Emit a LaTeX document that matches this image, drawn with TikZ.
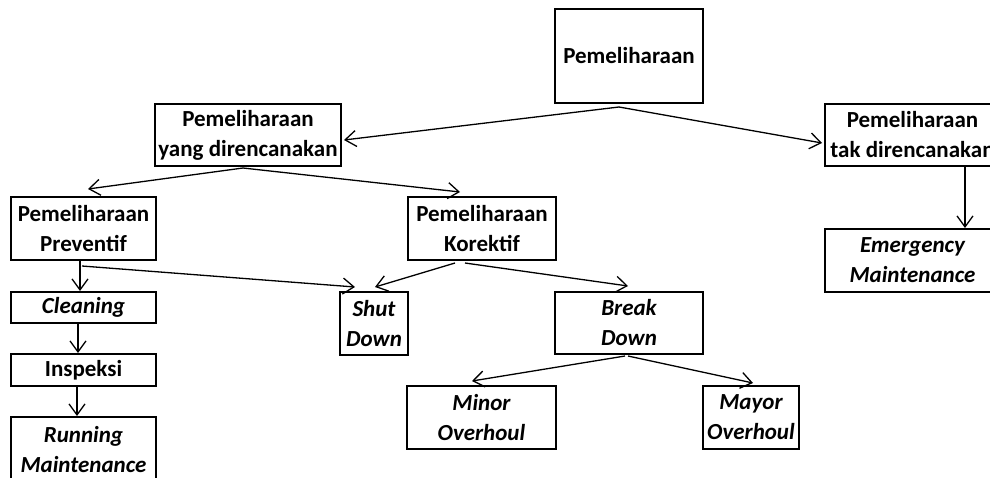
\documentclass[tikz,border=0pt]{standalone}
\usepackage{fontspec}
\setmainfont{Carlito}
\usetikzlibrary{arrows.meta}
\tikzset{
  box/.style={draw, line width=2pt, rectangle, inner sep=0pt, align=center,
    font=\fontsize{23}{30}\selectfont\bfseries},
  ibox/.style={box, font=\fontsize{23}{30}\selectfont\bfseries\itshape},
  arr/.style={draw, line width=1.3pt, -{Straight Barb[length=11pt,width=16pt,line width=1.3pt]}}
}
\begin{document}
\begin{tikzpicture}[x=1pt,y=-1pt]
\useasboundingbox (0,0) rectangle (990,477);
\clip (0,0) rectangle (990,477);
\fill[white] (0,0) rectangle (990,477);
% nodes
\node[box, minimum width=148pt, minimum height=94pt] (top) at (629,56) {Pemeliharaan};
\node[box, minimum width=186pt, minimum height=62pt] (yd) at (248,135) {Pemeliharaan\\yang direncanakan};
\node[box, minimum width=175pt, minimum height=62pt] (td) at (912.5,135) {Pemeliharaan\\tak direncanakan};
\node[ibox, minimum width=175pt, minimum height=63pt] (em) at (912.5,260.5) {Emergency\\Maintenance};
\node[box, minimum width=145pt, minimum height=63pt] (prev) at (83.5,228.5) {Pemeliharaan\\Preventif};
\node[box, minimum width=148pt, minimum height=63pt] (kor) at (482,228.5) {Pemeliharaan\\Korektif};
\node[ibox, minimum width=145pt, minimum height=31pt] (clean) at (83.5,307.5) {Cleaning};
\node[box, minimum width=145pt, minimum height=32pt] (insp) at (83.5,370) {Inspeksi};
\node[ibox, minimum width=145pt, minimum height=65pt] (run) at (83.5,449.5) {Running\\Maintenance};
\node[ibox, minimum width=68pt, minimum height=63pt] (shut) at (374,323.5) {Shut\\Down};
\node[ibox, minimum width=148pt, minimum height=62pt] (brk) at (629,323) {Break\\Down};
\node[ibox, minimum width=149pt, minimum height=63pt] (minor) at (481.5,417.5) {Minor\\Overhoul};
\node[ibox, minimum width=96pt, minimum height=63pt] (mayor) at (751,417.5) {Mayor\\Overhoul};
% connectors
\draw[arr] ([xshift=-10pt,yshift=-3pt]top.south) -- ([xshift=2pt,yshift=-5pt]yd.east);
\draw[arr] ([xshift=-10pt,yshift=-3pt]top.south) -- ([xshift=-2pt,yshift=-8pt]td.west);
\draw[arr] ([xshift=-5pt,yshift=-1pt]yd.south) -- ([xshift=4.5pt,yshift=7pt]prev.north);
\draw[arr] ([xshift=-5pt,yshift=-1pt]yd.south) -- ([xshift=-22pt,yshift=4pt]kor.north);
\draw[arr] ([xshift=-3.5pt]prev.south) -- ([xshift=-3.5pt]clean.north);
\draw[arr] ([xshift=-1.5pt,yshift=-5pt]prev.south) -- ([xshift=-19pt,yshift=4pt]shut.north);
\draw[arr] ([xshift=-27pt,yshift=-2pt]kor.south) -- ([xshift=1pt,yshift=4pt]shut.north);
\draw[arr] ([xshift=-17pt,yshift=-2pt]kor.south) -- ([xshift=-1pt,yshift=5pt]brk.north);
\draw[arr] ([xshift=-5.5pt]clean.south) -- ([xshift=-5.5pt]insp.north);
\draw[arr] ([xshift=-6.5pt]insp.south) -- ([xshift=-6.5pt]run.north);
\draw[arr] ([xshift=52.5pt]td.south) -- ([xshift=52.5pt]em.north);
\draw[arr] ([xshift=-4pt,yshift=-1pt]brk.south) -- ([xshift=-9.5pt,yshift=4pt]minor.north);
\draw[arr] ([xshift=-1pt,yshift=-1pt]brk.south) -- ([xshift=2pt,yshift=2pt]mayor.north);
\end{tikzpicture}
\end{document}
